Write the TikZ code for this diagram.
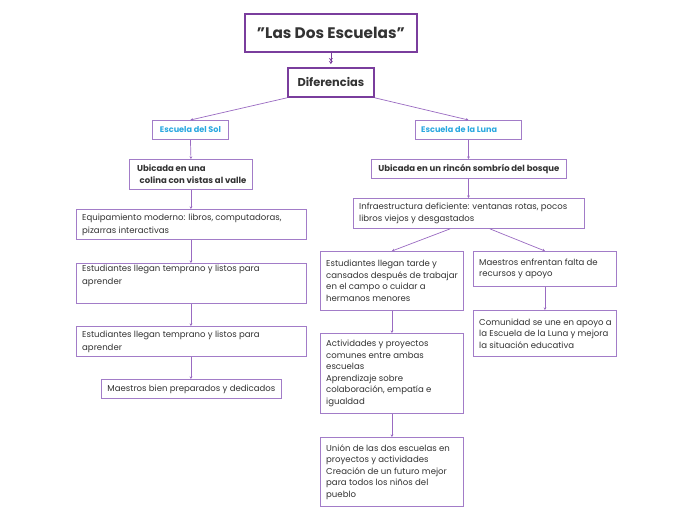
\documentclass[tikz,border=0pt]{standalone}
\usepackage{fontspec}
\setmainfont{Poppins}
\usetikzlibrary{arrows.meta,calc}
\definecolor{pline}{HTML}{9A6BC2}
\definecolor{pbox}{HTML}{A27CC8}
\definecolor{pdark}{HTML}{7A3D9D}
\definecolor{tx}{HTML}{333333}
\definecolor{sky}{HTML}{2AA8E0}
\tikzset{
  bx/.style={draw=pbox, line width=0.9pt, anchor=north west, inner sep=0pt, fill=white},
  hb/.style={draw=pdark, line width=1.8pt, anchor=north west, inner sep=0pt, fill=white},
  body/.style={anchor=west, inner sep=0pt, align=left, text=tx, font=\fontsize{8.55}{11.6}\selectfont},
  bodyl/.style={body, font=\fontsize{8.55}{13}\selectfont},
  bold/.style={inner sep=0pt, text=tx, font=\fontsize{8.5}{12}\selectfont\bfseries},
  blue/.style={inner sep=0pt, text=sky, font=\fontsize{8.1}{10}\selectfont\bfseries},
  conn/.style={draw=pline, line width=0.7pt, -{Stealth[length=2.6pt,width=2.8pt]}},
}
\newcommand\mybox[5]{\node[bx, minimum width=#4pt, minimum height=#5pt] (#1) at (#2,#3) {};}
\begin{document}
\begin{tikzpicture}[x=1pt,y=-1pt]
\useasboundingbox[fill=white] (0,0) rectangle (697,520);
% title boxes
\node[hb, minimum width=172pt, minimum height=38pt] (title) at (244,13) {};
\node[inner sep=0pt, text=tx, font=\fontsize{15.3}{17}\selectfont\bfseries] (titlet) at (title.center) {"Las Dos Escuelas"};
\node[hb, minimum width=86pt, minimum height=29pt] (dif) at (287,67) {};
\node[inner sep=0pt, text=tx, font=\fontsize{11.4}{13}\selectfont\bfseries] (dift) at (dif.center) {Diferencias};
% school heads
\mybox{sol}{152}{120}{76}{19}
\node[blue] (solt) at (sol.center) {Escuela del Sol};
\mybox{luna}{415}{120}{106}{19}
\node[blue, anchor=west] (lunat) at ($(luna.west)+(6,0)$) {Escuela de la Luna};
% left column
\mybox{ubs}{129}{159}{123}{30}
\node[bold, anchor=west, align=left] (ubst) at ($(ubs.west)+(8,0)$) {Ubicada en una\\\hspace*{2.5pt}colina con vistas al valle};
\mybox{equip}{76}{209}{230}{30}
\node[bodyl] (equipt) at ($(equip.west)+(6,0)$) {Equipamiento moderno: libros, computadoras,\\pizarras interactivas};
\mybox{est1}{76}{263}{230}{40}
\node[bodyl] (est1t) at ($(est1.west)+(6,0)$) {Estudiantes llegan temprano y listos para\\aprender\\\strut};
\mybox{est2}{76}{326}{230}{30}
\node[bodyl] (est2t) at ($(est2.west)+(6,0)$) {Estudiantes llegan temprano y listos para\\aprender};
\mybox{mbp}{101}{379}{180}{19}
\node[body, anchor=center] (mbpt) at (mbp.center) {Maestros bien preparados y dedicados};
% right column
\mybox{ubl}{371}{159}{195}{19}
\node[bold] (ublt) at (ubl.center) {Ubicada en un rincón sombrío del bosque};
\mybox{infra}{353}{198}{231}{30}
\node[body] (infrat) at ($(infra.west)+(6,0)$) {Infraestructura deficiente: ventanas rotas, pocos\\libros viejos y desgastados};
\mybox{tarde}{320}{251}{143}{59}
\node[body] (tardet) at ($(tarde.west)+(6,0)$) {Estudiantes llegan tarde y\\cansados después de trabajar\\en el campo o cuidar a\\hermanos menores};
\mybox{mef}{473}{251}{143}{35}
\node[body] (meft) at ($(mef.west)+(6,0)$) {Maestros enfrentan falta de\\recursos y apoyo};
\mybox{com}{473}{310}{143}{46}
\node[body] (comt) at ($(com.west)+(6,0)$) {Comunidad se une en apoyo a\\la Escuela de la Luna y mejora\\la situación educativa};
\mybox{act}{320}{333}{143}{80}
\node[body] (actt) at ($(act.west)+(6,0)$) {Actividades y proyectos\\comunes entre ambas\\escuelas\\Aprendizaje sobre\\colaboración, empatía e\\igualdad};
\mybox{union}{320}{437}{143}{69}
\node[body] (uniont) at ($(union.west)+(6,0)$) {Unión de las dos escuelas en\\proyectos y actividades\\Creación de un futuro mejor\\para todos los niños del\\pueblo};
% connectors
\draw[draw=pdark, line width=0.8pt, shorten >=3pt, -{Stealth[length=3pt,width=4pt]Stealth[length=3pt,width=4pt]}] (title.south) -- (dif.north);
\draw[conn] (dif.south west) -- (sol.north);
\draw[conn] (dif.south east) -- (luna.north);
\draw[conn] (sol.south) -- (ubs.north);
\draw[conn] (ubs.south) -- (ubs.south |- equip.north);
\draw[conn] (equip.south -| ubs.south) -- (ubs.south |- est1.north);
\draw[conn] (est1.south -| ubs.south) -- (ubs.south |- est2.north);
\draw[conn] (est2.south -| ubs.south) -- (mbp.north -| ubs.south);
\draw[conn] (luna.south) -- (luna.south |- ubl.north);
\draw[conn] (ubl.south -| luna.south) -- (luna.south |- infra.north);
\draw[conn] ($(infra.south west)+(97,0)$) -- (tarde.north);
\draw[conn] ($(infra.south west)+(137,0)$) -- (mef.north);
\draw[conn] (tarde.south) -- (act.north);
\draw[conn] (act.south) -- (union.north);
\draw[conn] (mef.south) -- (com.north);
\end{tikzpicture}
\end{document}
